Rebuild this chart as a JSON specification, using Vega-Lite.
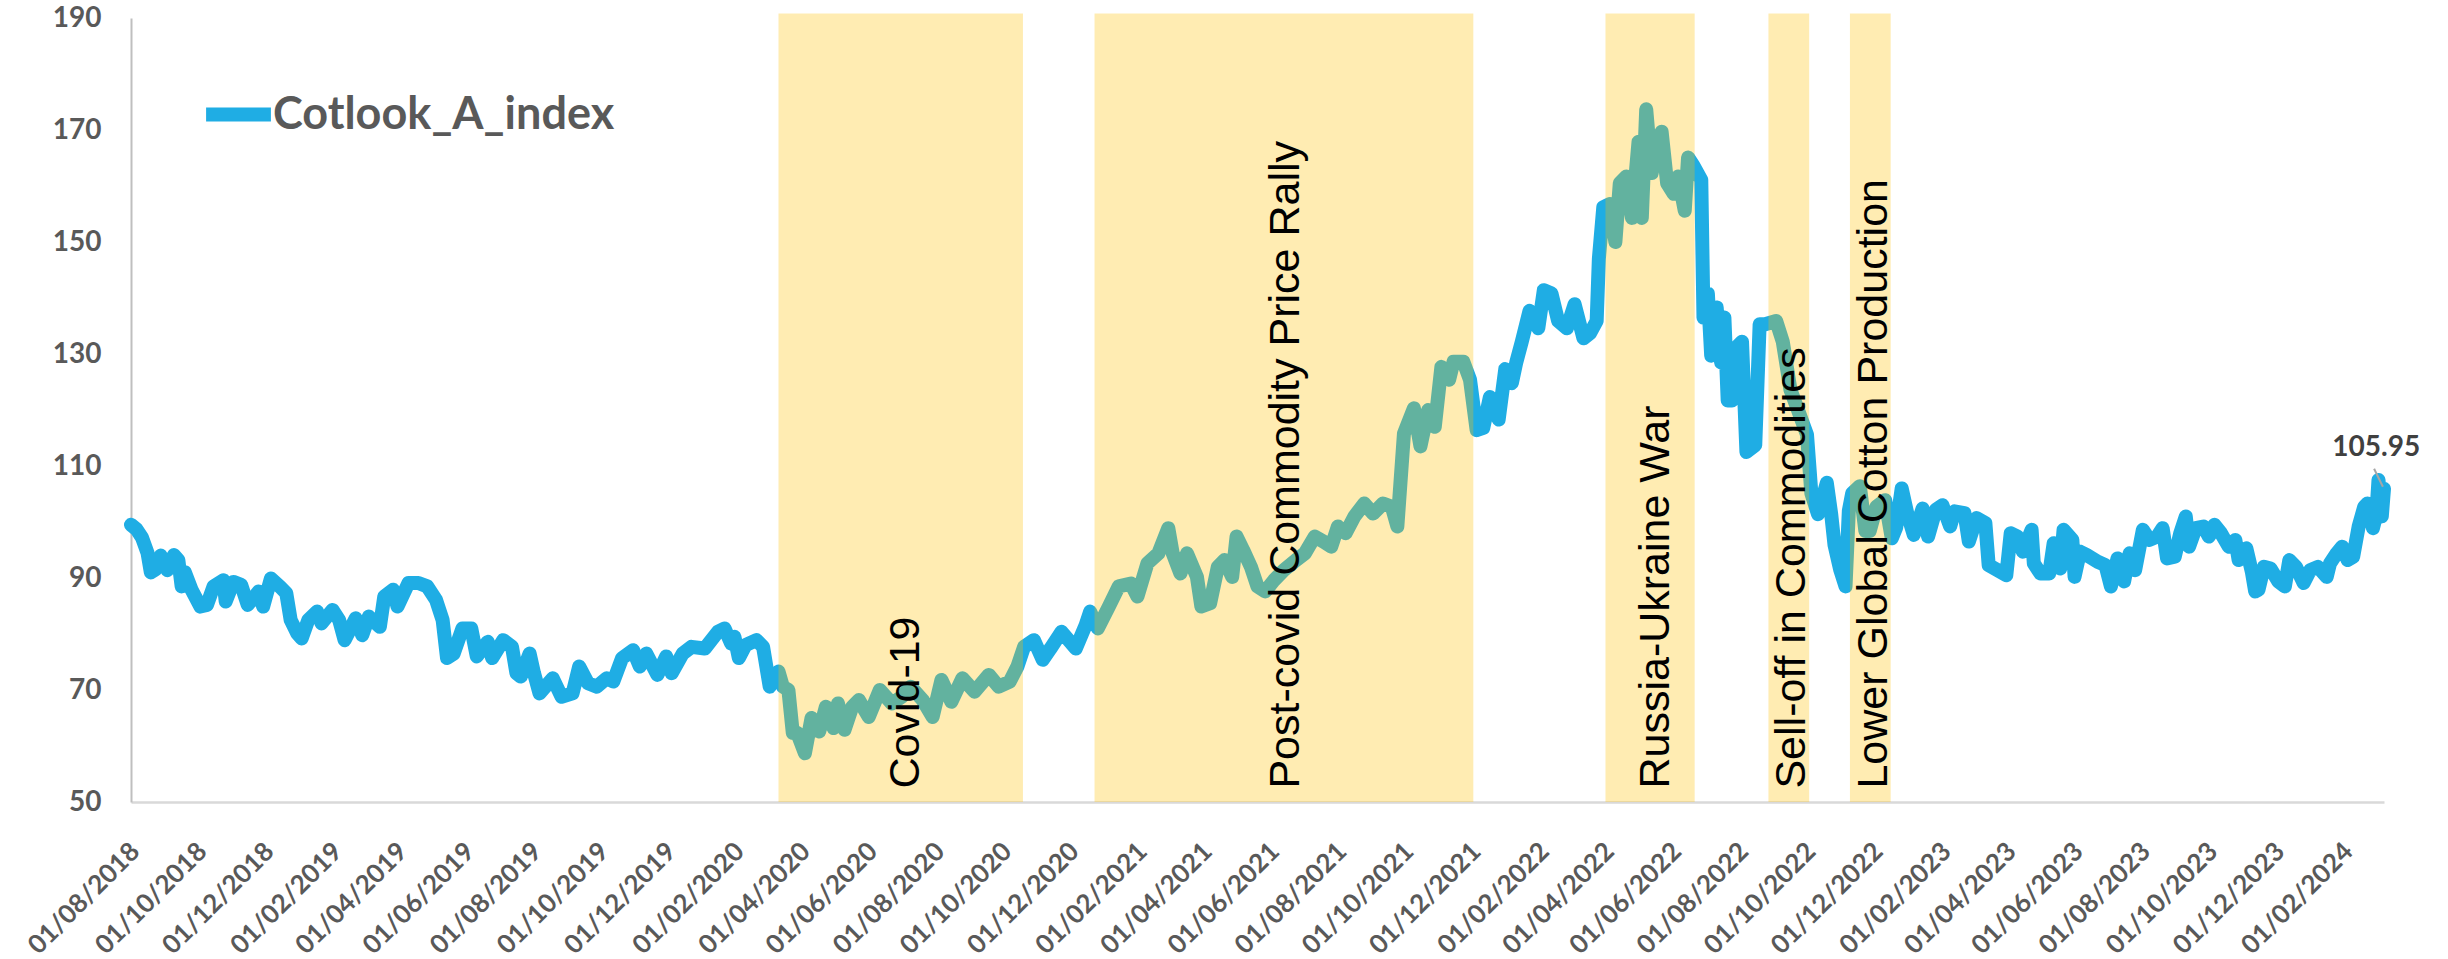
{
  "$schema": "https://vega.github.io/schema/vega-lite/v6.json",
  "width": 2253,
  "height": 784,
  "autosize": {"type": "none"},
  "padding": {"left": 131, "top": 18, "right": 64, "bottom": 157},
  "background": "white",
  "config": {"view": {"stroke": null}},
  "datasets": {
    "series": [
      {"date":"2018-08-01","value":99.5},{"date":"2018-08-06","value":98.7},{"date":"2018-08-11","value":97.2},{"date":"2018-08-16","value":94.5},{"date":"2018-08-19","value":91},{"date":"2018-08-23","value":91.5},{"date":"2018-08-28","value":94},{"date":"2018-09-03","value":91.4},{"date":"2018-09-09","value":94.1},{"date":"2018-09-13","value":93.2},{"date":"2018-09-16","value":88.5},{"date":"2018-09-19","value":91},{"date":"2018-09-25","value":87.9},
      {"date":"2018-10-03","value":84.9},{"date":"2018-10-09","value":85.2},{"date":"2018-10-15","value":88.5},{"date":"2018-10-24","value":89.6},{"date":"2018-10-26","value":85.8},{"date":"2018-11-02","value":89.3},{"date":"2018-11-09","value":88.8},{"date":"2018-11-15","value":85.2},{"date":"2018-11-25","value":87.6},{"date":"2018-11-29","value":84.9},{"date":"2018-12-06","value":89.9},{"date":"2018-12-14","value":88.5},{"date":"2018-12-20","value":87.3},{"date":"2018-12-24","value":82.5},{"date":"2018-12-30","value":80.1},
      {"date":"2019-01-03","value":79.2},{"date":"2019-01-09","value":82.5},{"date":"2019-01-17","value":84},{"date":"2019-01-21","value":81.9},{"date":"2019-01-31","value":84.3},{"date":"2019-02-06","value":82.5},{"date":"2019-02-11","value":78.9},{"date":"2019-02-21","value":82.8},{"date":"2019-02-27","value":79.8},{"date":"2019-03-05","value":83.1},{"date":"2019-03-15","value":81.3},{"date":"2019-03-19","value":86.7},{"date":"2019-03-27","value":87.9},{"date":"2019-03-31","value":84.9},
      {"date":"2019-04-10","value":89.1},{"date":"2019-04-19","value":89.1},{"date":"2019-04-27","value":88.5},{"date":"2019-05-05","value":86.1},{"date":"2019-05-11","value":82.5},{"date":"2019-05-15","value":75.7},{"date":"2019-05-21","value":76.5},{"date":"2019-05-29","value":81},{"date":"2019-06-06","value":81},{"date":"2019-06-11","value":76},{"date":"2019-06-21","value":78.6},{"date":"2019-06-25","value":75.7},
      {"date":"2019-07-05","value":78.9},{"date":"2019-07-13","value":77.7},{"date":"2019-07-17","value":73},{"date":"2019-07-21","value":72.4},{"date":"2019-07-29","value":76.5},{"date":"2019-08-02","value":73},{"date":"2019-08-07","value":69.4},{"date":"2019-08-19","value":72.1},{"date":"2019-08-27","value":68.8},{"date":"2019-09-06","value":69.4},{"date":"2019-09-12","value":74.2},{"date":"2019-09-20","value":71.2},{"date":"2019-09-28","value":70.6},
      {"date":"2019-10-07","value":72.1},{"date":"2019-10-13","value":71.5},{"date":"2019-10-21","value":75.7},{"date":"2019-10-31","value":77.1},{"date":"2019-11-06","value":74.2},{"date":"2019-11-12","value":76.5},{"date":"2019-11-22","value":72.7},{"date":"2019-11-30","value":76},{"date":"2019-12-05","value":73},{"date":"2019-12-15","value":76.5},{"date":"2019-12-23","value":77.7},
      {"date":"2020-01-04","value":77.4},{"date":"2020-01-16","value":80.4},{"date":"2020-01-22","value":81},{"date":"2020-01-28","value":78.3},{"date":"2020-01-31","value":79.5},{"date":"2020-02-04","value":75.7},{"date":"2020-02-10","value":78},{"date":"2020-02-20","value":78.9},{"date":"2020-02-26","value":77.7},{"date":"2020-03-03","value":70.6},{"date":"2020-03-11","value":73.3},{"date":"2020-03-15","value":70.6},{"date":"2020-03-20","value":70},{"date":"2020-03-24","value":62.3},{"date":"2020-03-28","value":62.3},
      {"date":"2020-04-04","value":58.7},{"date":"2020-04-10","value":65},{"date":"2020-04-17","value":62.6},{"date":"2020-04-23","value":67},{"date":"2020-04-30","value":63.2},{"date":"2020-05-04","value":67.6},{"date":"2020-05-10","value":62.9},{"date":"2020-05-17","value":67},{"date":"2020-05-23","value":68.2},{"date":"2020-06-01","value":65.2},{"date":"2020-06-11","value":70},{"date":"2020-06-22","value":67.6},
      {"date":"2020-07-01","value":68.8},{"date":"2020-07-09","value":70.6},{"date":"2020-07-20","value":68.2},{"date":"2020-07-29","value":65.2},{"date":"2020-08-06","value":71.8},{"date":"2020-08-15","value":67.9},{"date":"2020-08-25","value":72.1},{"date":"2020-09-05","value":69.7},{"date":"2020-09-18","value":72.7},{"date":"2020-09-27","value":70.6},
      {"date":"2020-10-07","value":71.5},{"date":"2020-10-14","value":74.2},{"date":"2020-10-20","value":77.7},{"date":"2020-10-29","value":78.9},{"date":"2020-11-06","value":75.4},{"date":"2020-11-13","value":77.4},{"date":"2020-11-23","value":80.4},{"date":"2020-12-06","value":77.4},{"date":"2020-12-15","value":81.6},{"date":"2020-12-19","value":84},{"date":"2020-12-26","value":81},
      {"date":"2021-01-05","value":84.9},{"date":"2021-01-14","value":88.5},{"date":"2021-01-25","value":89},{"date":"2021-01-31","value":86.7},{"date":"2021-02-09","value":92.6},{"date":"2021-02-19","value":94.4},{"date":"2021-02-28","value":98.9},{"date":"2021-03-04","value":94.4},{"date":"2021-03-11","value":90.8},{"date":"2021-03-17","value":94.4},{"date":"2021-03-26","value":90.2},{"date":"2021-03-30","value":84.9},
      {"date":"2021-04-07","value":85.5},{"date":"2021-04-14","value":92},{"date":"2021-04-20","value":93.2},{"date":"2021-04-27","value":90.2},{"date":"2021-05-01","value":97.4},{"date":"2021-05-07","value":95},{"date":"2021-05-14","value":92},{"date":"2021-05-20","value":88.5},{"date":"2021-05-27","value":87.6},{"date":"2021-06-04","value":89.6},{"date":"2021-06-13","value":91.4},{"date":"2021-06-24","value":93.2},
      {"date":"2021-07-02","value":94.4},{"date":"2021-07-11","value":97.4},{"date":"2021-07-19","value":96.5},{"date":"2021-07-26","value":95.6},{"date":"2021-08-01","value":99.2},{"date":"2021-08-08","value":98},{"date":"2021-08-16","value":101},{"date":"2021-08-25","value":103.3},{"date":"2021-09-02","value":101.5},{"date":"2021-09-11","value":103.3},{"date":"2021-09-19","value":102.7},{"date":"2021-09-24","value":99.2},{"date":"2021-09-30","value":115.8},
      {"date":"2021-10-09","value":120.3},{"date":"2021-10-15","value":113.5},{"date":"2021-10-22","value":120},{"date":"2021-10-28","value":117},{"date":"2021-11-03","value":127.7},{"date":"2021-11-10","value":125.4},{"date":"2021-11-14","value":128.6},{"date":"2021-11-23","value":128.6},{"date":"2021-11-29","value":125.4},{"date":"2021-12-05","value":116.4},{"date":"2021-12-11","value":116.8},{"date":"2021-12-17","value":122.3},{"date":"2021-12-25","value":118.3},{"date":"2021-12-31","value":127.3},
      {"date":"2022-01-06","value":124.8},{"date":"2022-01-10","value":128.5},{"date":"2022-01-15","value":132.2},{"date":"2022-01-22","value":137.7},{"date":"2022-01-30","value":134.6},{"date":"2022-02-04","value":141.4},{"date":"2022-02-11","value":140.8},{"date":"2022-02-17","value":135.9},{"date":"2022-02-25","value":134.6},{"date":"2022-03-04","value":138.9},{"date":"2022-03-12","value":132.8},{"date":"2022-03-18","value":133.7},{"date":"2022-03-24","value":135.9},{"date":"2022-03-26","value":147},{"date":"2022-03-30","value":156.2},
      {"date":"2022-04-05","value":156.8},{"date":"2022-04-10","value":150},{"date":"2022-04-14","value":160.5},{"date":"2022-04-20","value":161.7},{"date":"2022-04-25","value":154.3},{"date":"2022-05-01","value":167.9},{"date":"2022-05-04","value":154.3},{"date":"2022-05-08","value":173.7},{"date":"2022-05-13","value":162.3},{"date":"2022-05-18","value":167.9},{"date":"2022-05-22","value":169.7},{"date":"2022-05-27","value":160.5},
      {"date":"2022-06-02","value":158.6},{"date":"2022-06-06","value":161.7},{"date":"2022-06-12","value":155.6},{"date":"2022-06-15","value":165.1},{"date":"2022-06-20","value":163.6},{"date":"2022-06-27","value":161.1},{"date":"2022-06-29","value":136.5},{"date":"2022-07-03","value":140.8},{"date":"2022-07-06","value":129.7},{"date":"2022-07-11","value":138.3},{"date":"2022-07-15","value":128.5},{"date":"2022-07-18","value":136.5},{"date":"2022-07-21","value":121.7},{"date":"2022-07-25","value":121.7},{"date":"2022-07-28","value":131},
      {"date":"2022-08-03","value":132.2},{"date":"2022-08-07","value":112.5},{"date":"2022-08-15","value":113.7},{"date":"2022-08-19","value":135.3},{"date":"2022-08-24","value":135.3},{"date":"2022-09-03","value":135.9},{"date":"2022-09-09","value":132.2},{"date":"2022-09-16","value":123.6},{"date":"2022-09-23","value":119.9},{"date":"2022-10-01","value":115.6},{"date":"2022-10-05","value":105.1},{"date":"2022-10-11","value":101.4},{"date":"2022-10-19","value":107},{"date":"2022-10-23","value":101.4},{"date":"2022-10-26","value":95.9},{"date":"2022-10-31","value":91.6},
      {"date":"2022-11-05","value":88.5},{"date":"2022-11-08","value":102},{"date":"2022-11-11","value":105.1},{"date":"2022-11-18","value":106.4},{"date":"2022-11-23","value":98.4},{"date":"2022-11-27","value":98.4},{"date":"2022-12-03","value":102.7},{"date":"2022-12-11","value":103.9},{"date":"2022-12-17","value":97.1},{"date":"2022-12-21","value":99},{"date":"2022-12-26","value":106},{"date":"2022-12-31","value":101.6},
      {"date":"2023-01-06","value":97.7},{"date":"2023-01-14","value":102.4},{"date":"2023-01-19","value":97.4},{"date":"2023-01-26","value":102.2},{"date":"2023-02-01","value":103},{"date":"2023-02-08","value":99.2},{"date":"2023-02-12","value":101.9},{"date":"2023-02-21","value":101.6},{"date":"2023-02-25","value":96.5},{"date":"2023-03-04","value":100.7},{"date":"2023-03-12","value":99.8},{"date":"2023-03-15","value":92.3},{"date":"2023-03-23","value":91.4},{"date":"2023-03-31","value":90.5},
      {"date":"2023-04-04","value":98},{"date":"2023-04-10","value":97.4},{"date":"2023-04-15","value":94.7},{"date":"2023-04-23","value":98.6},{"date":"2023-04-25","value":92.6},{"date":"2023-05-01","value":90.8},{"date":"2023-05-09","value":90.8},{"date":"2023-05-13","value":96.2},{"date":"2023-05-19","value":91.7},{"date":"2023-05-22","value":98.6},{"date":"2023-05-30","value":96.8},{"date":"2023-06-01","value":90.2},{"date":"2023-06-06","value":94.7},{"date":"2023-06-12","value":94.1},{"date":"2023-06-22","value":92.9},{"date":"2023-06-29","value":92.3},
      {"date":"2023-07-04","value":88.5},{"date":"2023-07-10","value":93.5},{"date":"2023-07-16","value":89.4},{"date":"2023-07-21","value":94.4},{"date":"2023-07-26","value":91.4},{"date":"2023-08-02","value":98.6},{"date":"2023-08-08","value":96.8},{"date":"2023-08-15","value":97.4},{"date":"2023-08-20","value":98.9},{"date":"2023-08-24","value":93.5},{"date":"2023-08-31","value":93.8},{"date":"2023-09-05","value":98},{"date":"2023-09-10","value":101},{"date":"2023-09-13","value":95.6},{"date":"2023-09-19","value":98.9},{"date":"2023-09-26","value":99.2},
      {"date":"2023-10-01","value":97.4},{"date":"2023-10-06","value":99.5},{"date":"2023-10-12","value":98},{"date":"2023-10-19","value":95.6},{"date":"2023-10-25","value":96.8},{"date":"2023-10-28","value":93.2},{"date":"2023-11-04","value":95.3},{"date":"2023-11-09","value":91.1},{"date":"2023-11-12","value":87.6},{"date":"2023-11-15","value":87.9},{"date":"2023-11-20","value":92},{"date":"2023-11-26","value":91.7},
      {"date":"2023-12-03","value":89.4},{"date":"2023-12-09","value":88.5},{"date":"2023-12-13","value":93.2},{"date":"2023-12-19","value":92},{"date":"2023-12-26","value":89.1},{"date":"2024-01-01","value":91.4},{"date":"2024-01-08","value":92},{"date":"2024-01-16","value":90.2},{"date":"2024-01-19","value":92.6},{"date":"2024-01-25","value":94.4},{"date":"2024-01-30","value":95.6},
      {"date":"2024-02-04","value":93.2},{"date":"2024-02-09","value":93.8},{"date":"2024-02-14","value":99.2},{"date":"2024-02-19","value":102.7},{"date":"2024-02-22","value":103.3},{"date":"2024-02-27","value":98.9},{"date":"2024-03-01","value":101.3},{"date":"2024-03-03","value":107.5},{"date":"2024-03-06","value":101},{"date":"2024-03-08","value":105.95}
    ],
    "events": [
      {"label":"Covid-19","start":"2020-03-11","end":"2020-10-19","textDate":"2020-07-17"},
      {"label":"Post-covid Commodity Price Rally","start":"2020-12-23","end":"2021-12-02","textDate":"2021-06-27"},
      {"label":"Russia-Ukraine War","start":"2022-04-01","end":"2022-06-21","textDate":"2022-05-29"},
      {"label":"Sell-off in Commodities","start":"2022-08-27","end":"2022-10-03","textDate":"2022-09-29"},
      {"label":"Lower Global Cotton Production","start":"2022-11-09","end":"2022-12-16","textDate":"2022-12-13"}
    ],
    "lastLabel": [
      {"date":"2024-03-01","value":113.3,"text":"105.95","lineFrom":"2024-02-28","lineTo":"2024-03-07","lineTop":109.5,"lineBottom":106.3}
    ]
  },
  "layer": [
    {
      "data": {"name": "series"},
      "mark": {"type": "line", "strokeWidth": 14, "strokeCap": "round", "strokeJoin": "round", "interpolate": "linear"},
      "encoding": {
        "x": {
          "field": "date", "type": "temporal",
          "scale": {"type": "utc", "domain": [{"year":2018,"month":8,"date":1,"utc":true},{"year":2024,"month":3,"date":8,"utc":true}]},
          "axis": {
            "title": null,
            "labelExpr": "utcFormat(datum.value, '%d/%m/%Y')",
            "values": [
              {"year":2018,"month":8,"date":1,"utc":true},{"year":2018,"month":10,"date":1,"utc":true},{"year":2018,"month":12,"date":1,"utc":true},
              {"year":2019,"month":2,"date":1,"utc":true},{"year":2019,"month":4,"date":1,"utc":true},{"year":2019,"month":6,"date":1,"utc":true},{"year":2019,"month":8,"date":1,"utc":true},{"year":2019,"month":10,"date":1,"utc":true},{"year":2019,"month":12,"date":1,"utc":true},
              {"year":2020,"month":2,"date":1,"utc":true},{"year":2020,"month":4,"date":1,"utc":true},{"year":2020,"month":6,"date":1,"utc":true},{"year":2020,"month":8,"date":1,"utc":true},{"year":2020,"month":10,"date":1,"utc":true},{"year":2020,"month":12,"date":1,"utc":true},
              {"year":2021,"month":2,"date":1,"utc":true},{"year":2021,"month":4,"date":1,"utc":true},{"year":2021,"month":6,"date":1,"utc":true},{"year":2021,"month":8,"date":1,"utc":true},{"year":2021,"month":10,"date":1,"utc":true},{"year":2021,"month":12,"date":1,"utc":true},
              {"year":2022,"month":2,"date":1,"utc":true},{"year":2022,"month":4,"date":1,"utc":true},{"year":2022,"month":6,"date":1,"utc":true},{"year":2022,"month":8,"date":1,"utc":true},{"year":2022,"month":10,"date":1,"utc":true},{"year":2022,"month":12,"date":1,"utc":true},
              {"year":2023,"month":2,"date":1,"utc":true},{"year":2023,"month":4,"date":1,"utc":true},{"year":2023,"month":6,"date":1,"utc":true},{"year":2023,"month":8,"date":1,"utc":true},{"year":2023,"month":10,"date":1,"utc":true},{"year":2023,"month":12,"date":1,"utc":true},
              {"year":2024,"month":2,"date":1,"utc":true}
            ],
            "labelAngle": -45, "labelAlign": "right", "labelBaseline": "middle",
            "labelFont": "Lato", "labelFontWeight": "bold", "labelFontSize": 26, "labelColor": "#595959",
            "labelPadding": 45, "labelOffset": 4, "labelOverlap": false, "labelFlush": false, "labelLimit": 0,
            "ticks": false, "grid": false,
            "domainColor": "#D9D9D9", "domainWidth": 2.5
          }
        },
        "y": {
          "field": "value", "type": "quantitative",
          "scale": {"domain": [50, 190], "nice": false, "zero": false},
          "axis": {
            "title": null,
            "values": [50, 70, 90, 110, 130, 150, 170, 190],
            "labelFont": "Lato", "labelFontWeight": "bold", "labelFontSize": 28, "labelColor": "#595959",
            "labelPadding": 30, "ticks": false, "grid": false,
            "domainColor": "#BFBFBF", "domainWidth": 2
          }
        },
        "color": {
          "datum": "Cotlook_A_index",
          "scale": {"domain": ["Cotlook_A_index"], "range": ["#1FADE4"]},
          "legend": {
            "title": null, "orient": "none", "legendX": 68, "legendY": 57,
            "symbolType": "stroke", "symbolStrokeWidth": 14, "symbolSize": 4200,
            "labelFont": "Lato", "labelFontWeight": "bold", "labelFontSize": 45, "labelColor": "#595959",
            "labelOffset": -5, "labelLimit": 0, "padding": 0
          }
        }
      }
    },
    {
      "data": {"name": "events"},
      "mark": {"type": "rect", "fill": "#FFC000", "opacity": 0.3},
      "encoding": {
        "x": {"field": "start", "type": "temporal"},
        "x2": {"field": "end"},
        "y": {"datum": 50},
        "y2": {"datum": 190.8}
      }
    },
    {
      "data": {"name": "events"},
      "mark": {"type": "text", "angle": 270, "align": "left", "baseline": "alphabetic", "font": "Liberation Sans", "fontSize": 43, "color": "#000000"},
      "encoding": {
        "x": {"field": "textDate", "type": "temporal"},
        "y": {"datum": 52.4},
        "text": {"field": "label"}
      }
    },
    {
      "data": {"name": "lastLabel"},
      "mark": {"type": "rule", "color": "#A6A6A6", "strokeWidth": 2},
      "encoding": {
        "x": {"field": "lineFrom", "type": "temporal"},
        "x2": {"field": "lineTo"},
        "y": {"field": "lineTop", "type": "quantitative"},
        "y2": {"field": "lineBottom"}
      }
    },
    {
      "data": {"name": "lastLabel"},
      "mark": {"type": "text", "align": "center", "baseline": "middle", "font": "Lato", "fontWeight": "bold", "fontSize": 28, "color": "#404040"},
      "encoding": {
        "x": {"field": "date", "type": "temporal"},
        "y": {"field": "value", "type": "quantitative"},
        "text": {"field": "text"}
      }
    }
  ]
}
